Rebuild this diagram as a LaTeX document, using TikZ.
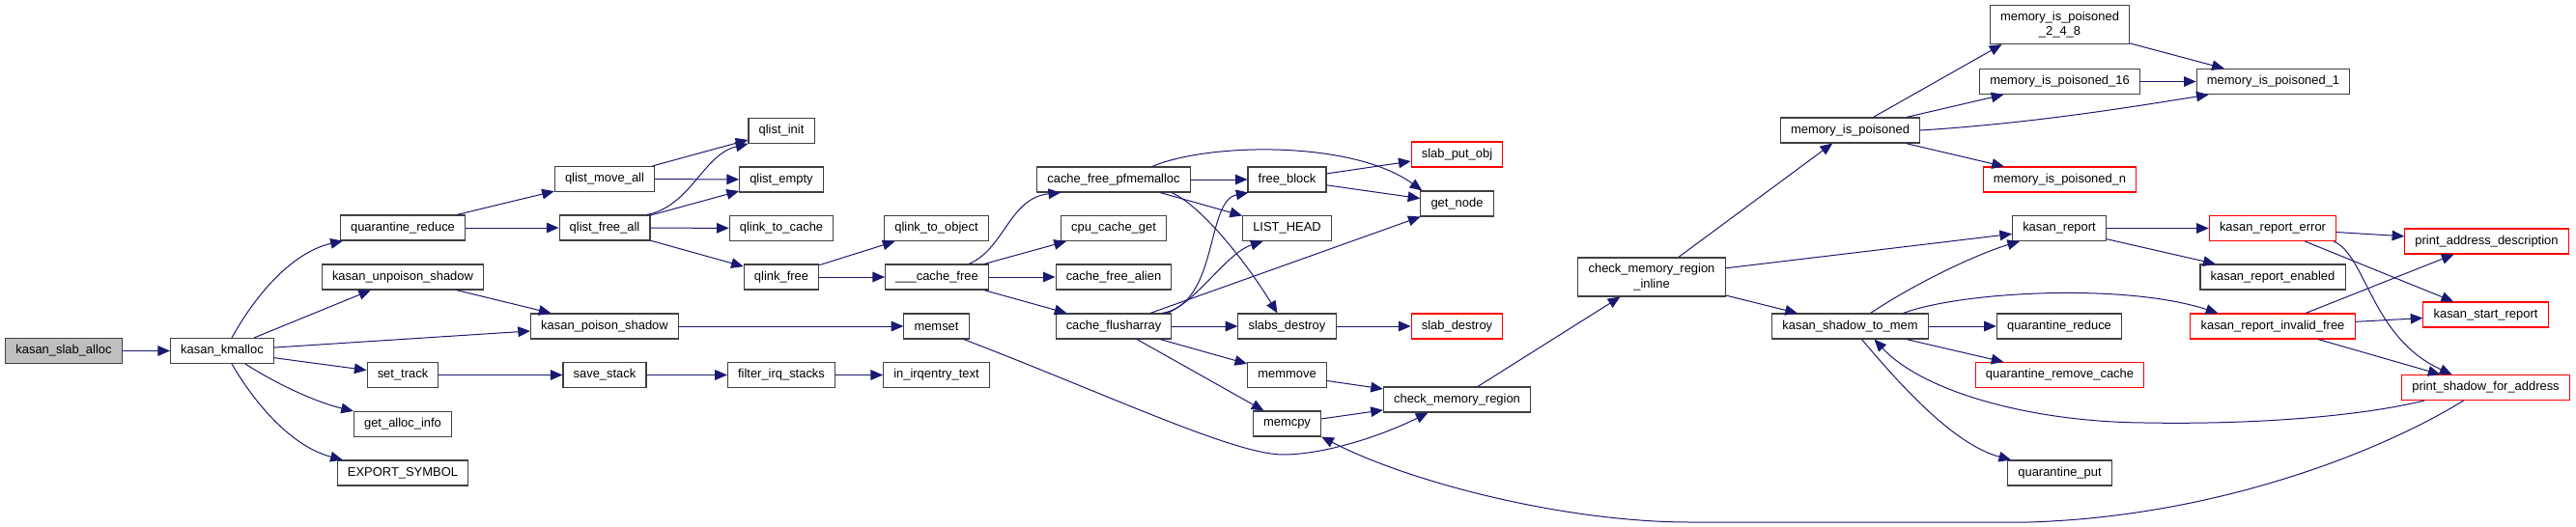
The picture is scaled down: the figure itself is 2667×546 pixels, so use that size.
\documentclass[tikz,border=0pt]{standalone}
\usepackage{fontspec}
\setmainfont{Liberation Sans}
\usepackage{xcolor}
\usepackage{tikz}
\usetikzlibrary{arrows.meta, calc}
\definecolor{edgeblue}{HTML}{191970}
\definecolor{rootfill}{HTML}{BFBFBF}
\definecolor{fnstroke}{HTML}{404040}
\definecolor{truncstroke}{HTML}{FF0000}
\newcommand{\fnfont}{\fontsize{9.7}{11.6}\selectfont}
\tikzset{
    fn/.style={rectangle, draw=fnstroke, fill=white, line width=0.8pt,
    inner xsep=8pt, inner ysep=2pt, minimum height=19.5pt, align=center, font=\fnfont},
    rootfn/.style={fn, fill=rootfill},
    truncfn/.style={fn, draw=truncstroke},
    twoline/.style={minimum height=30pt},
    call/.style={-{Triangle[length=9.5pt, width=8pt]}, draw=edgeblue, fill=none, line width=0.75pt},
}

\begin{document}
\begin{tikzpicture}[x=0.75pt, y=-0.75pt]

        \useasboundingbox (0,0) rectangle (2667,546);

% =========================================================
% NODES — one column per call depth
% =========================================================

        \node[rootfn] (slaballoc) at (66,363.5) {kasan\_slab\_alloc};
        \node[fn] (kmalloc) at (230,363.5) {kasan\_kmalloc};

        \node[fn] (qreduce)   at (417,236)   {quarantine\_reduce};
        \node[fn] (kunpoison) at (417,287)   {kasan\_unpoison\_shadow};
        \node[fn] (settrack)  at (417,388.5) {set\_track};
        \node[fn] (getalloc)  at (417,439.5) {get\_alloc\_info};
        \node[fn] (export)    at (417,490)   {EXPORT\_SYMBOL};

        \node[fn] (qmoveall)  at (626,185.5) {qlist\_move\_all};
        \node[fn] (qfreeall)  at (626,236)   {qlist\_free\_all};
        \node[fn] (kpoison)   at (626,338)   {kasan\_poison\_shadow};
        \node[fn] (savestack) at (626,388.5) {save\_stack};

        \node[fn] (qinit)     at (809,135.5) {qlist\_init};
        \node[fn] (qempty)    at (809,186)   {qlist\_empty};
        \node[fn] (qtocache)  at (809,236.5) {qlink\_to\_cache};
        \node[fn] (qlinkfree) at (809,287)   {qlink\_free};
        \node[fn] (filterirq) at (809,388.5) {filter\_irq\_stacks};

        \node[fn] (qtoobj)    at (969.5,236.5) {qlink\_to\_object};
        \node[fn] (cachefree) at (970,287)     {\_\_\_cache\_free};
        \node[fn] (memset)    at (969.5,338)   {memset};
        \node[fn] (irqentry)  at (969.5,388.5) {in\_irqentry\_text};

        \node[fn] (pfmemalloc) at (1153,186)   {cache\_free\_pfmemalloc};
        \node[fn] (cpucache)   at (1153,236.5) {cpu\_cache\_get};
        \node[fn] (freealien)  at (1153,287)   {cache\_free\_alien};
        \node[fn] (flusharray) at (1153,338)   {cache\_flusharray};

        \node[fn] (freeblock)    at (1332.5,186)   {free\_block};
        \node[fn] (listhead)     at (1332.5,236.5) {LIST\_HEAD};
        \node[fn] (slabsdestroy) at (1332.5,338)   {slabs\_destroy};
        \node[fn] (memmove)      at (1332.5,388.5) {memmove};
        \node[fn] (memcpy)       at (1332.5,439)   {memcpy};

        \node[truncfn] (slabputobj)  at (1508.5,160) {slab\_put\_obj};
        \node[fn]      (getnode)     at (1508.5,211) {get\_node};
        \node[truncfn] (slabdestroy) at (1508.5,338) {slab\_destroy};
        \node[fn]      (checkmem)    at (1508.5,414) {check\_memory\_region};

        \node[fn, twoline] (checkinline) at (1710,287) {check\_memory\_region\\\_inline};

        \node[fn] (mempois)   at (1915.5,135) {memory\_is\_poisoned};
        \node[fn] (shadowmem) at (1915.5,338) {kasan\_shadow\_to\_mem};

        \node[fn, twoline] (pois248) at (2132.5,25.5) {memory\_is\_poisoned\\\_2\_4\_8};
        \node[fn]      (pois16)   at (2132.5,84.5)  {memory\_is\_poisoned\_16};
        \node[truncfn] (poisn)    at (2132.5,186)   {memory\_is\_poisoned\_n};
        \node[fn]      (kreport)  at (2132,236.5)   {kasan\_report};
        \node[fn]      (qreduceb) at (2132,338)     {quarantine\_reduce};
        \node[truncfn] (qremove)  at (2132.5,388.5) {quarantine\_remove\_cache};
        \node[fn]      (qput)     at (2132.5,490)   {quarantine\_put};

        \node[fn]      (pois1)     at (2353.5,84.5) {memory\_is\_poisoned\_1};
        \node[truncfn] (kreperror) at (2353,236.5)  {kasan\_report\_error};
        \node[fn]      (kenabled)  at (2353,287)    {kasan\_report\_enabled};
        \node[truncfn] (kinvalid)  at (2353,338)    {kasan\_report\_invalid\_free};

        \node[truncfn] (printaddr)   at (2574.5,250)   {print\_address\_description};
        \node[truncfn] (kstart)      at (2573.5,326)   {kasan\_start\_report};
        \node[truncfn] (printshadow) at (2573.5,401.5) {print\_shadow\_for\_address};

% =========================================================
% CALLS — left half
% =========================================================

        \draw[call] (slaballoc) -- (kmalloc);
        \draw[call] ($(kmalloc.north)+(10,0)$) .. controls (262,310) and (300,262) .. ($(qreduce.south west)+(3,0)$);
        \draw[call] (kmalloc) -- (kunpoison);
        \draw[call] (kmalloc) -- (kpoison);
        \draw[call] (kmalloc) -- (settrack);
        \draw[call] ($(kmalloc.south)+(24,0)$) .. controls (285,397) and (325,416) .. (getalloc.north west);
        \draw[call] ($(kmalloc.south)+(10,0)$) .. controls (262,415) and (300,462) .. ($(export.north west)+(6,0)$);

        \draw[call] (qreduce) -- (qmoveall);
        \draw[call] (qreduce) -- (qfreeall);
        \draw[call] (kunpoison) -- (kpoison);
        \draw[call] (settrack) -- (savestack);

        \draw[call] (qmoveall) -- (qinit);
        \draw[call] (qmoveall) -- (qempty);
        \draw[call] ($(qfreeall.north east)+(-4,0)$) .. controls (715,214) and (728,160) .. (qinit.south west);
        \draw[call] (qfreeall) -- (qempty);
        \draw[call] (qfreeall) -- (qtocache);
        \draw[call] (qfreeall) -- (qlinkfree);
        \draw[call] (kpoison) -- (memset);
        \draw[call] (savestack) -- (filterirq);
        \draw[call] (filterirq) -- (irqentry);

        \draw[call] (qlinkfree) -- (qtoobj);
        \draw[call] (qlinkfree) -- (cachefree);
        \draw[call] ($(cachefree.north)+(33,0)$) .. controls (1040,258) and (1045,205) .. ($(pfmemalloc.south west)+(25,0)$);
        \draw[call] (cachefree) -- (cpucache);
        \draw[call] (cachefree) -- (freealien);
        \draw[call] (cachefree) -- (flusharray);
        \draw[call] ($(memset.south east)+(-6,0)$) .. controls (1150,410) and (1280,472) .. (1330,471)
            .. controls (1380,470) and (1440,447) .. ($(checkmem.south)+(-30,0)$);

% cache_free_pfmemalloc / cache_flusharray
        \draw[call] (pfmemalloc) -- (freeblock);
        \draw[call] (pfmemalloc) -- (listhead);
        \draw[call] ($(pfmemalloc.south east)+(-20,0)$) .. controls (1242,212) and (1288,268) .. ($(slabsdestroy.north)+(-10,0)$);
        \draw[call] ($(pfmemalloc.north)+(40,0)$) .. controls (1250,148) and (1400,145) .. ($(getnode.north west)+(2,0)$);
        \draw[call] ($(flusharray.north)+(50,0)$) .. controls (1262,315) and (1248,208) .. ($(freeblock.south west)+(1,0)$);
        \draw[call] ($(flusharray.north)+(55,0)$) .. controls (1240,312) and (1270,262) .. ($(listhead.south)+(-25,0)$);
        \draw[call] (flusharray) -- (getnode);
        \draw[call] (flusharray) -- (slabsdestroy);
        \draw[call] (flusharray) -- (memmove);
        \draw[call] (flusharray) -- (memcpy);

        \draw[call] (freeblock) -- (slabputobj);
        \draw[call] (freeblock) -- (getnode);
        \draw[call] (slabsdestroy) -- (slabdestroy);
        \draw[call] (memmove) -- (checkmem);
        \draw[call] (memcpy) -- (checkmem);

% =========================================================
% CALLS — right half
% =========================================================

        \draw[call] (checkmem) -- (checkinline);
        \draw[call] (checkinline) -- (mempois);
        \draw[call] (checkinline) -- (kreport);
        \draw[call] (checkinline) -- (shadowmem);

        \draw[call] (mempois) -- ($(pois248.south)+(-60,0)$);
        \draw[call] (mempois) -- (pois16);
        \draw[call] (mempois.east) .. controls (2100,128) and (2200,112) .. ($(pois1.south west)+(13,0)$);
        \draw[call] (mempois) -- (poisn);
        \draw[call] (pois248) -- (pois1);
        \draw[call] (pois16) -- (pois1);

        \draw[call] (kreport) -- (kreperror);
        \draw[call] (kreport) -- (kenabled);
        \draw[call] ($(shadowmem.north)+(21,0)$) .. controls (1985,292) and (2050,262) .. ($(kreport.south west)+(8,0)$);
        \draw[call] ($(shadowmem.north)+(55,0)$) .. controls (2030,302) and (2200,293) .. ($(kinvalid.north west)+(29,0)$);
        \draw[call] (shadowmem) -- (qreduceb);
        \draw[call] (shadowmem) -- (qremove);
        \draw[call] ($(shadowmem.south)+(12,0)$) .. controls (1960,390) and (2020,460) .. ($(qput.north west)+(4,0)$);

        \draw[call] (kreperror) -- (printaddr);
        \draw[call] (kreperror) -- (kstart);
        \draw[call] ($(kreperror.south east)+(-3,0)$) .. controls (2450,265) and (2455,350) .. ($(printshadow.north)+(-35,0)$);
        \draw[call] (kinvalid) -- (printaddr);
        \draw[call] (kinvalid) -- (kstart);
        \draw[call] (kinvalid) -- (printshadow);

% print_shadow_for_address calls back to the left
        \draw[call] ($(printshadow.south west)+(24,0)$) .. controls (2440,432) and (2330,440) .. (2220,438)
            .. controls (2100,437) and (1990,405) .. ($(shadowmem.south)+(25,0)$);
        \draw[call] ($(printshadow.south)+(-23,0)$) .. controls (2470,465) and (2300,535) .. (2100,541)
            -- (1750,541) .. controls (1620,541) and (1460,500) .. (memcpy.south east);

\end{tikzpicture}
\end{document}
